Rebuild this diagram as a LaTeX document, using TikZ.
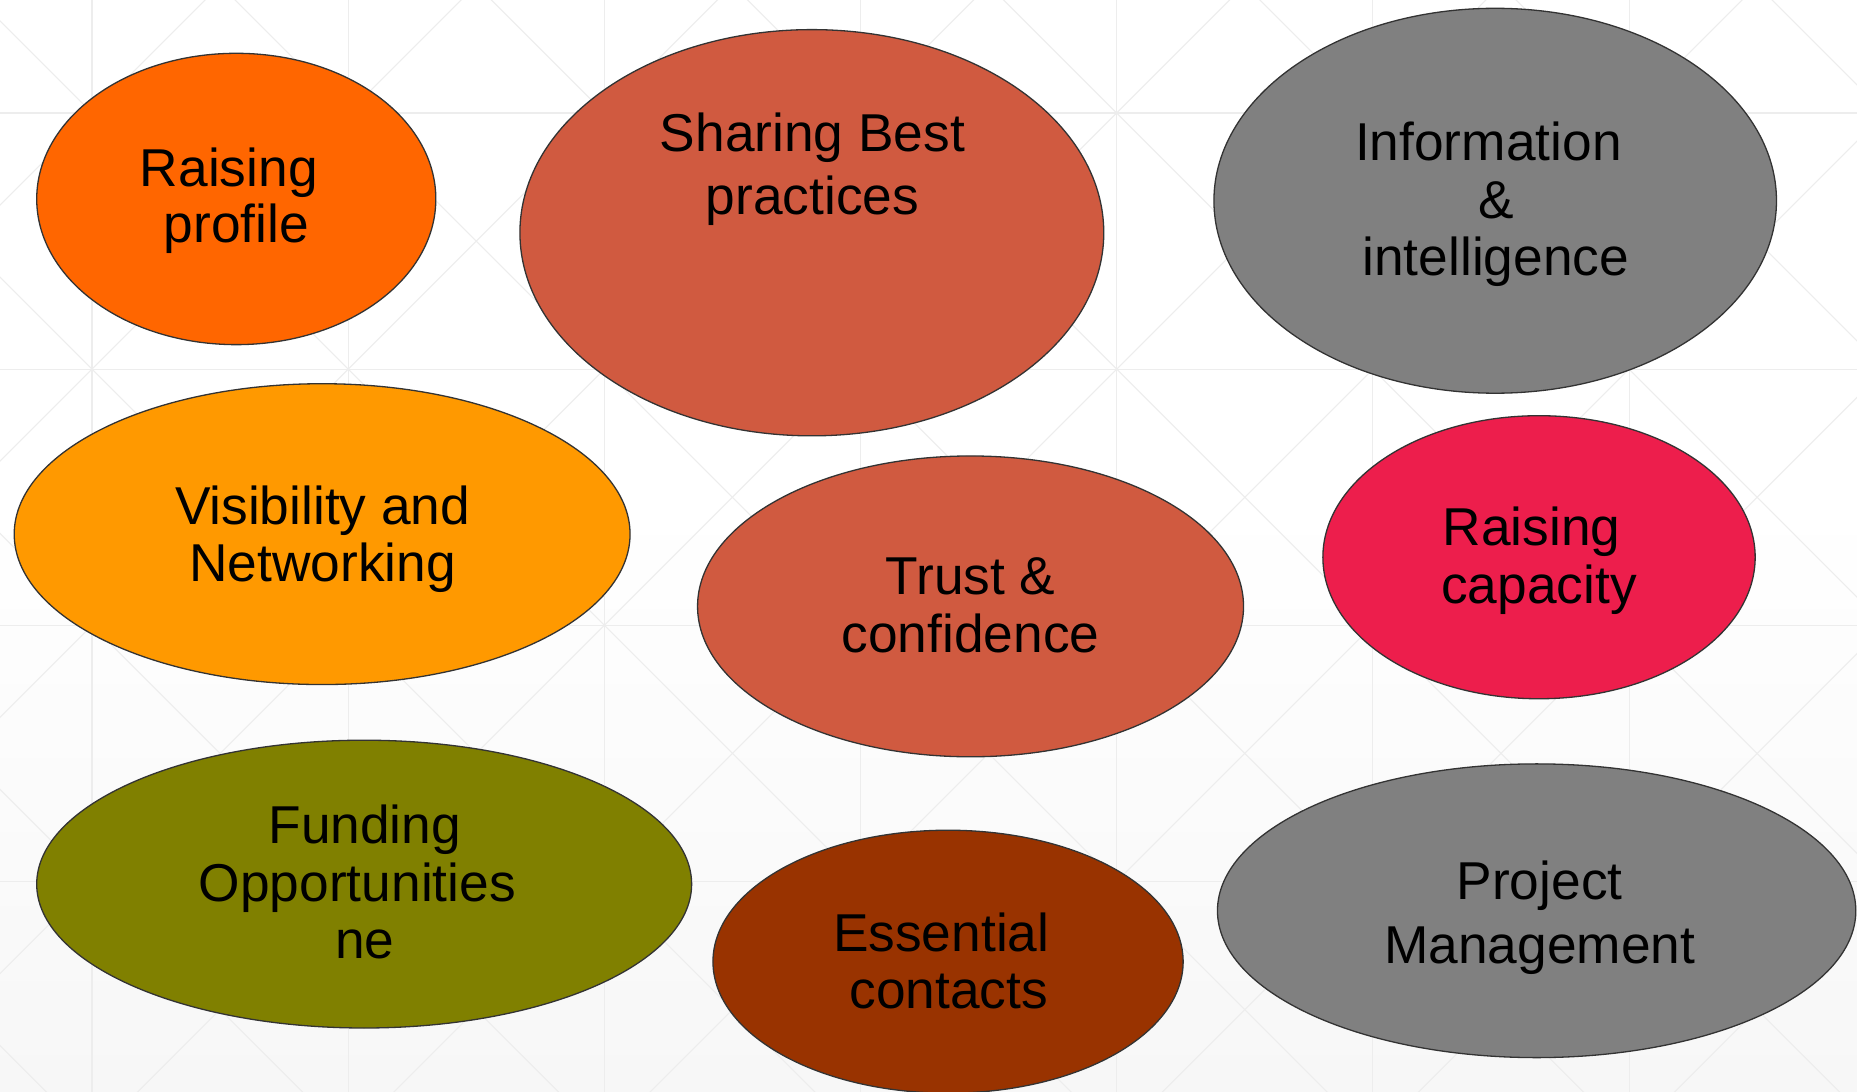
\documentclass[tikz,border=0pt]{standalone}
\usepackage{fontspec}
\setmainfont{Liberation Sans}
\usetikzlibrary{shapes.geometric}
\definecolor{cOrange}{RGB}{255,102,0}
\definecolor{cRust}{RGB}{208,90,64}
\definecolor{cGray}{RGB}{128,128,128}
\definecolor{cAmber}{RGB}{255,153,0}
\definecolor{cCrimson}{RGB}{237,30,76}
\definecolor{cOlive}{RGB}{128,128,0}
\definecolor{cBrown}{RGB}{153,51,0}
\definecolor{cEdge}{RGB}{51,51,51}
\definecolor{cGrid}{RGB}{237,237,237}
\definecolor{cBottom}{RGB}{247,247,247}
\newcommand{\trsp}{\rule{0.278em}{0pt}}
\begin{document}
\begin{tikzpicture}[x=1pt,y=-1pt,
  blob/.style={ellipse, draw=cEdge, line width=1.1pt, inner sep=0pt, outer sep=0pt},
  lbl/.style={align=center, text=black, inner sep=0pt},
  gridline/.style={draw=cGrid, line width=0.9pt}]
\useasboundingbox (0,0) rectangle (1568,922);
% background
\fill[white] (0,0) rectangle (1568,922);
\shade[top color=white, bottom color=cBottom] (0,420) rectangle (1568,922);
\begin{scope}
  \clip (0,0) rectangle (1568,922);
  \foreach \k in {-1,...,7} \draw[gridline] ({77.7+216.3*\k},0) -- ({77.7+216.3*\k},922);
  \foreach \k in {-1,...,4} \draw[gridline] (0,{95.4+216.3*\k}) -- (1568,{95.4+216.3*\k});
  \foreach \k in {-6,...,12} {
    \draw[gridline] ({77.7+216.3*\k-1300},{95.4-1300}) -- ({77.7+216.3*\k+1300},{95.4+1300});
    \draw[gridline] ({77.7+216.3*\k+1300},{95.4-1300}) -- ({77.7+216.3*\k-1300},{95.4+1300});
  }
\end{scope}
% ellipses
\node[blob, fill=cOrange,  minimum width=337pt, minimum height=246pt] (e1) at (199.5,168) {};
\node[blob, fill=cRust,    minimum width=493pt, minimum height=343pt] (e2) at (685.5,196.5) {};
\node[blob, fill=cGray,    minimum width=475pt, minimum height=325pt] (e3) at (1262.5,169.5) {};
\node[blob, fill=cAmber,   minimum width=520pt, minimum height=254pt] (e4) at (272,451) {};
\node[blob, fill=cRust,    minimum width=461pt, minimum height=254pt] (e5) at (819.5,512) {};
\node[blob, fill=cCrimson, minimum width=365pt, minimum height=239pt] (e6) at (1299.5,470.5) {};
\node[blob, fill=cOlive,   minimum width=553pt, minimum height=243pt] (e7) at (307.5,746.5) {};
\node[blob, fill=cBrown,   minimum width=397pt, minimum height=222pt] (e8) at (800.5,812) {};
\node[blob, fill=cGray,    minimum width=539pt, minimum height=248pt] (e9) at (1297.5,769) {};
% labels
\node[lbl, font=\fontsize{45}{48}\selectfont] (t1) at (199.5,169.5) {Raising\trsp\\profile};
\node[lbl, font=\fontsize{45}{53}\selectfont] (t2) at (686,142.75) {Sharing Best\\practices};
\node[lbl, font=\fontsize{45}{48.5}\selectfont] (t3) at (1263,172.75) {Information\trsp\\\&\\intelligence};
\node[lbl, font=\fontsize{45}{48}\selectfont] (t4) at (272.5,455.25) {Visibility and\\Networking};
\node[lbl, font=\fontsize{45}{49}\selectfont] (t5) at (819.5,511) {Trust \&\\confidence};
\node[lbl, font=\fontsize{45}{49}\selectfont] (t6) at (1299.5,473.75) {Raising\trsp\\capacity};
\node[lbl, font=\fontsize{45}{48.5}\selectfont] (t7) at (308,745) {Funding\\Opportunities\trsp\\ne};
\node[lbl, font=\fontsize{45}{48}\selectfont] (t8) at (801,811.5) {Essential\trsp\\contacts};
\node[lbl, font=\fontsize{45}{54}\selectfont] (t9) at (1300,775.25) {Project\\Management};
\end{tikzpicture}
\end{document}
